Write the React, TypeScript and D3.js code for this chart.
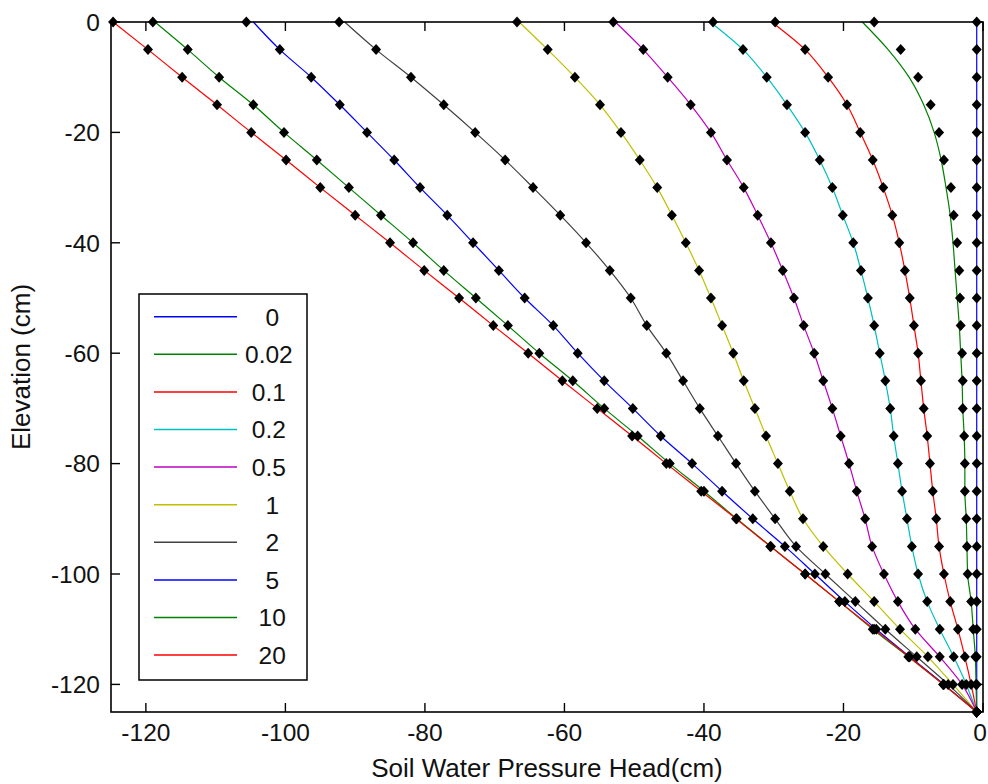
import React from 'react';
import * as d3 from 'd3';

// Elevation grid (cm)
const elevation = [0, -5, -10, -15, -20, -25, -30, -35, -40, -45, -50, -55, -60, -65, -70, -75, -80, -85, -90, -95, -100, -105, -110, -115, -120, -125];

// Legend labels (num2str padded)
const fluxLabels = ['   0', '0.02', ' 0.1', ' 0.2', ' 0.5', '   1', '   2', '   5', '  10', '  20'];
const seriesColors = ['#0000ff', '#008000', '#ff0000', '#00bfbf', '#bf00bf', '#bfbf00', '#404040', '#0000ff', '#008000', '#ff0000'];

// Marker (analytic) pressure heads, cm, one value per elevation
const pts_0 = [-0.9, -0.9, -0.9, -0.9, -0.9, -0.9, -0.9, -0.9, -0.9, -0.9, -0.9, -0.9, -0.9, -0.9, -0.9, -0.9, -0.9, -0.9, -0.9, -0.9, -0.9, -0.9, -0.9, -0.9, -0.9, -0.9];
const pts_002 = [-15.6, -11.8, -9.3, -7.5, -6.3, -5.6, -4.6, -4.2, -3.7, -3.4, -3.3, -3.2, -3.0, -2.9, -2.9, -2.7, -2.6, -2.6, -2.4, -2.3, -2.2, -1.7, -1.4, -1.1, -1.0, -0.9];
const pts_01 = [-29.8, -25.5, -22.2, -19.5, -17.6, -15.8, -14.3, -13.0, -12.0, -11.2, -10.5, -9.9, -9.3, -8.9, -8.5, -8.0, -7.6, -7.2, -6.7, -6.3, -5.6, -4.7, -3.6, -2.6, -1.7, -0.9];
const pts_02 = [-38.7, -34.4, -31.0, -28.1, -25.5, -23.4, -21.6, -20.1, -18.6, -17.5, -16.5, -15.6, -14.8, -14.0, -13.3, -12.8, -12.2, -11.6, -10.9, -10.2, -9.3, -8.0, -6.2, -4.2, -2.4, -0.9];
const pts_05 = [-53.0, -48.7, -45.2, -41.9, -39.0, -36.7, -34.3, -32.3, -30.4, -28.7, -27.1, -25.7, -24.2, -22.9, -21.6, -20.4, -19.2, -18.1, -16.9, -15.9, -14.2, -12.2, -9.7, -6.2, -3.0, -0.9];
const pts_1 = [-66.8, -62.4, -58.5, -54.9, -51.9, -49.2, -46.7, -44.6, -42.6, -40.7, -39.0, -37.4, -35.8, -34.3, -32.7, -31.1, -29.4, -27.7, -25.8, -22.9, -19.4, -15.6, -11.9, -7.9, -4.3, -0.9];
const pts_2 = [-92.3, -87.0, -82.0, -77.3, -72.8, -68.5, -64.5, -60.6, -56.9, -53.5, -50.5, -48.2, -45.4, -43.0, -40.6, -38.0, -35.4, -32.7, -29.8, -26.8, -22.6, -18.3, -14.0, -9.5, -5.0, -0.9];
const pts_5 = [-105.6, -100.8, -96.3, -92.2, -88.3, -84.4, -80.7, -76.8, -73.1, -69.4, -65.7, -61.6, -58.1, -54.3, -50.2, -46.2, -41.7, -37.4, -33.0, -28.4, -24.1, -19.8, -15.3, -10.5, -5.6, -0.9];
const pts_10 = [-119.0, -114.0, -109.5, -104.6, -100.2, -95.5, -90.9, -86.3, -81.7, -77.3, -72.7, -68.1, -63.6, -58.8, -54.3, -49.5, -44.9, -40.0, -35.3, -30.4, -25.5, -20.6, -15.8, -10.7, -5.7, -0.9];
const pts_20 = [-124.7, -119.7, -114.8, -109.8, -104.9, -99.9, -95.0, -90.0, -85.0, -80.1, -75.1, -70.2, -65.2, -60.3, -55.3, -50.3, -45.4, -40.4, -35.4, -30.5, -25.5, -20.6, -15.6, -10.6, -5.7, -0.9];

// Numerical (line) solution where it differs from the markers
const line_002 = [-17.3, -13.6, -10.6, -8.5, -7.0, -6.0, -5.3, -4.7, -4.3, -4.0, -3.7, -3.4, -3.2, -3.0, -2.9, -2.7, -2.6, -2.6, -2.4, -2.3, -2.2, -1.7, -1.4, -1.1, -1.0, -0.9];
// surface (z = 0) value of the line for each series
const lineSurface = [-0.9, -17.3, -30.3, -39.1, -52.7, -66.5, -91.5, -104.6, -118.7, -124.7];

const markerSeries = [pts_0, pts_002, pts_01, pts_02, pts_05, pts_1, pts_2, pts_5, pts_10, pts_20];

const xTicks = [-120, -100, -80, -60, -40, -20, 0];
const yTicks = [0, -20, -40, -60, -80, -100, -120];

const W = 988;
const H = 784;
const FONT = '"Liberation Sans", Arial, sans-serif';

export default function App() {
  const x = d3.scaleLinear().domain([-125, 0]).range([111, 983]);
  const y = d3.scaleLinear().domain([-125, 0]).range([712, 22]);

  const lineGen = d3
    .line<[number, number]>()
    .x((d) => x(d[0]))
    .y((d) => y(d[1]))
    .curve(d3.curveMonotoneY);

  const lineSeries = markerSeries.map((pts, i) => {
    if (i === 1) return line_002;
    return pts.map((v, j) => (j === 0 ? lineSurface[i] : v));
  });

  const diamond = 'M0,-5.5L5,0L0,5.5L-5,0Z';
  const [x0, x1] = x.range();
  const [yb, yt] = y.range();
  const tickLen = 9;

  const legendX = 139;
  const legendY = 294;
  const legendW = 168;
  const legendH = 386;
  const rowY = (i: number) => 316.7 + 37.6 * i;

  return (
    <svg width={W} height={H} style={{ position: 'absolute', left: 0, top: 0, background: '#fff' }} fontFamily={FONT}>
      <rect x={0} y={0} width={W} height={H} fill="#fff" />
      {/* curves */}
      {lineSeries.map((vals, i) => (
        <path
          key={'l' + i}
          d={lineGen(vals.map((v, j) => [v, elevation[j]]) as [number, number][]) || ''}
          fill="none"
          stroke={seriesColors[i]}
          strokeWidth={1.2}
        />
      ))}
      {/* markers */}
      {markerSeries.map((vals, i) => (
        <g key={'m' + i}>
          {vals.map((v, j) => (
            <path key={j} d={diamond} transform={`translate(${x(v)},${y(elevation[j])})`} fill="#000" />
          ))}
        </g>
      ))}
      {/* axes box */}
      <rect x={x0} y={yt} width={x1 - x0} height={yb - yt} fill="none" stroke="#000" strokeWidth={1.6} />
      {/* x ticks */}
      {xTicks.map((t) => (
        <g key={'xt' + t}>
          <line x1={x(t)} x2={x(t)} y1={yb} y2={yb - tickLen} stroke="#000" strokeWidth={1.4} />
          <line x1={x(t)} x2={x(t)} y1={yt} y2={yt + tickLen} stroke="#000" strokeWidth={1.4} />
          <text x={Math.min(x(t), W - 8)} y={740.5} textAnchor="middle" fontSize={24.5} fill="#111">
            {t}
          </text>
        </g>
      ))}
      {/* y ticks */}
      {yTicks.map((t) => (
        <g key={'yt' + t}>
          <line x1={x0} x2={x0 + tickLen} y1={y(t)} y2={y(t)} stroke="#000" strokeWidth={1.4} />
          <line x1={x1} x2={x1 - tickLen} y1={y(t)} y2={y(t)} stroke="#000" strokeWidth={1.4} />
          <text x={100} y={y(t)} dy="0.36em" textAnchor="end" fontSize={24.5} fill="#111">
            {t}
          </text>
        </g>
      ))}
      {/* axis titles */}
      <text x={(x0 + x1) / 2} y={777} textAnchor="middle" fontSize={26} fill="#111">
        Soil Water Pressure Head(cm)
      </text>
      <text transform={`translate(30,${(yt + yb) / 2}) rotate(-90)`} textAnchor="middle" fontSize={26} fill="#111">
        Elevation (cm)
      </text>
      {/* legend */}
      <rect x={legendX} y={legendY} width={legendW} height={legendH} fill="#fff" stroke="#000" strokeWidth={1.5} />
      {fluxLabels.map((lab, i) => (
        <g key={'lg' + i}>
          <line x1={154} x2={237} y1={rowY(i)} y2={rowY(i)} stroke={seriesColors[i]} strokeWidth={1.5} />
          <text x={245} y={rowY(i)} dy="0.36em" fontSize={24.5} fill="#111" style={{ whiteSpace: 'pre' }} xmlSpace="preserve">
            {lab}
          </text>
        </g>
      ))}
    </svg>
  );
}
